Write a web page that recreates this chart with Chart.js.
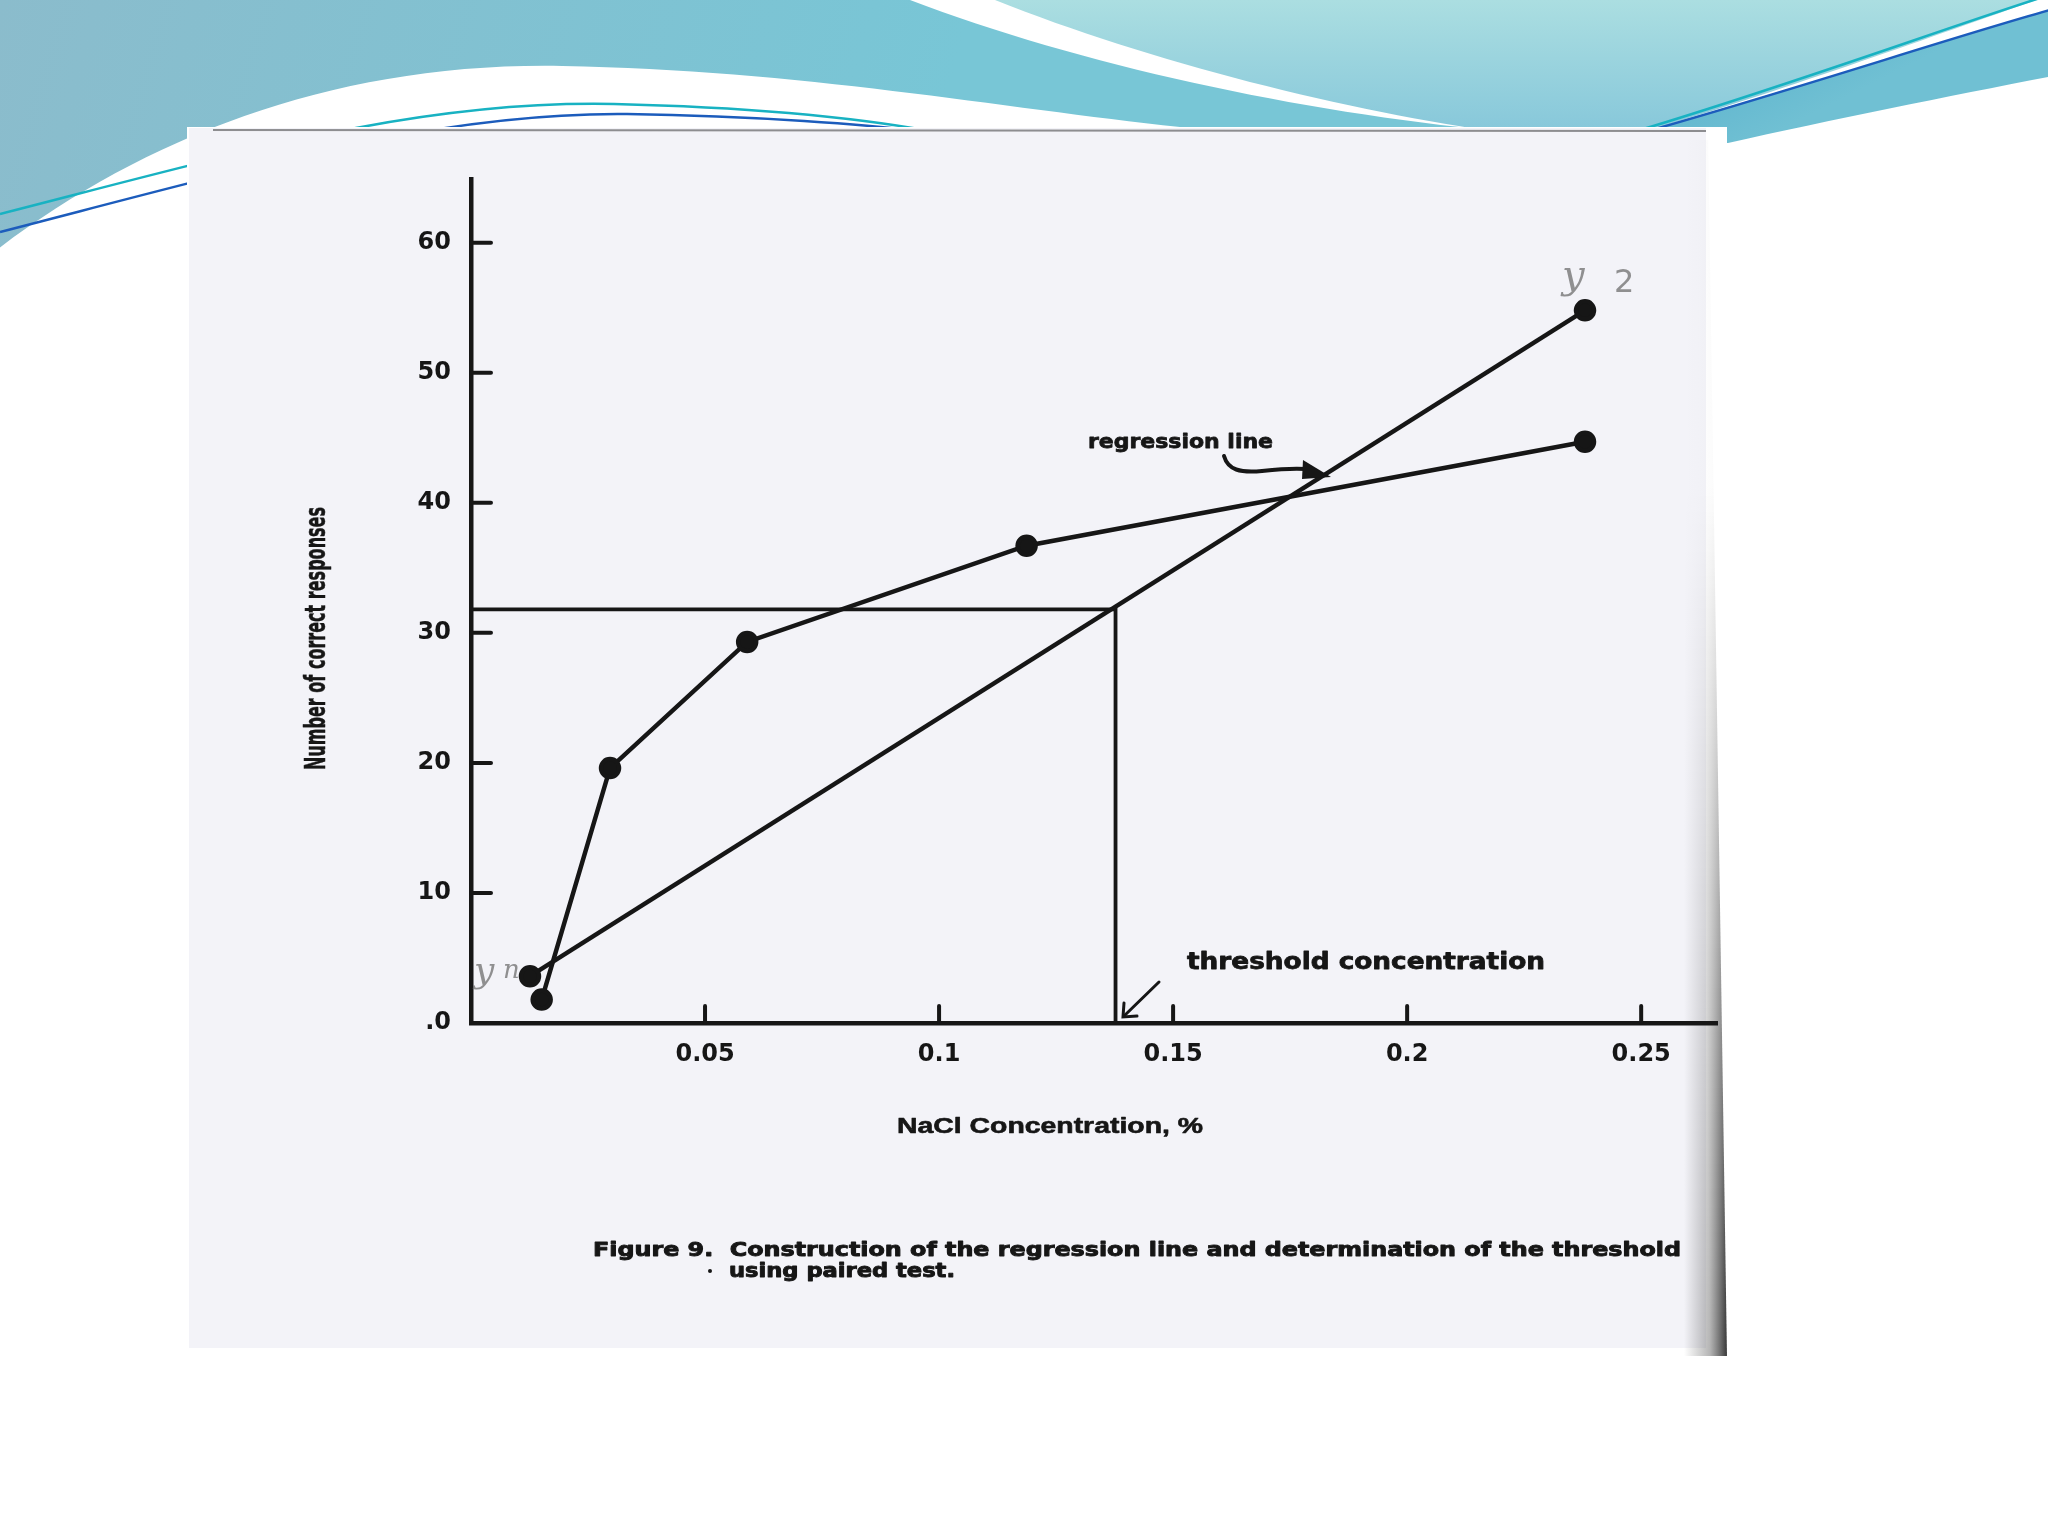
<!DOCTYPE html>
<html>
<head>
<meta charset="utf-8">
<script src="https://cdn.jsdelivr.net/npm/chart.js@4.4.1/dist/chart.umd.min.js"></script>
<style>
html,body{margin:0;padding:0;background:#ffffff;}
#wrap{position:absolute;left:0;top:0;width:2048px;height:1536px;}
canvas{display:block;}
</style>
</head>
<body>
<div id="wrap"><canvas id="c" width="2048" height="1536"></canvas></div>
<script>
// ---- data ----
const responseX = [0.0151, 0.0297, 0.0590, 0.1187, 0.2380];
const responseY = [1.8, 19.6, 29.3, 36.7, 44.7];
const regressionX = [0.0126, 0.2380];
const regressionY = [3.6, 54.8];
const thresholdX = 0.1377;
const thresholdY = 31.8;
const xTickValues = [0.05, 0.1, 0.15, 0.2, 0.25];
const xTickLabels = ['0.05', '0.1', '0.15', '0.2', '0.25'];
const yTickValues = [0, 10, 20, 30, 40, 50, 60];
const yTickLabels = ['.0', '10', '20', '30', '40', '50', '60'];
const xTitle = 'NaCl Concentration, %';
const yTitle = 'Number of correct responses';
const captionLine1 = 'Figure 9.  Construction of the regression line and determination of the threshold';
const captionLine2 = 'using paired test.';
const regressionLabel = 'regression line';
const thresholdLabel = 'threshold concentration';

const INK = '#161616';

function fitText(ctx, text, x, y, w, font, color, heavy) {
  ctx.save();
  ctx.font = font;
  ctx.fillStyle = color || INK;
  ctx.strokeStyle = color || INK;
  ctx.textAlign = 'left';
  ctx.textBaseline = 'alphabetic';
  const m = ctx.measureText(text).width;
  ctx.translate(x, y);
  ctx.scale(w / m, 1);
  ctx.fillText(text, 0, 0);
  if (heavy) {
    ctx.lineWidth = heavy;
    ctx.lineJoin = 'round';
    ctx.strokeText(text, 0, 0);
  }
  ctx.restore();
}

const backgroundPlugin = {
  id: 'slideBackground',
  beforeDraw(chart) {
    const ctx = chart.ctx;
    ctx.save();
    ctx.fillStyle = '#ffffff';
    ctx.fillRect(0, 0, 2048, 1536);

    // left blue region
    let g = ctx.createLinearGradient(0, 0, 900, 260);
    g.addColorStop(0, '#8bbccc');
    g.addColorStop(1, '#78c6d6');
    ctx.fillStyle = g;
    ctx.beginPath();
    ctx.moveTo(0, 0);
    ctx.lineTo(910, 0);
    ctx.bezierCurveTo(1080, 65, 1300, 112, 1497, 131);
    ctx.lineTo(1497, 200);
    ctx.lineTo(0, 300);
    ctx.closePath();
    ctx.fill();

    // white wave
    ctx.fillStyle = '#ffffff';
    ctx.beginPath();
    ctx.moveTo(-10, 255);
    ctx.bezierCurveTo(140, 140, 330, 62, 562, 66);
    ctx.bezierCurveTo(800, 70, 1000, 108, 1180, 127);
    ctx.lineTo(1500, 140);
    ctx.lineTo(1500, 400);
    ctx.lineTo(-10, 400);
    ctx.closePath();
    ctx.fill();

    // right light region
    g = ctx.createLinearGradient(0, 0, 0, 135);
    g.addColorStop(0, '#abdee1');
    g.addColorStop(1, '#86c7da');
    ctx.fillStyle = g;
    ctx.beginPath();
    ctx.moveTo(995, 0);
    ctx.bezierCurveTo(1150, 62, 1350, 112, 1505, 133);
    ctx.lineTo(1650, 130);
    ctx.bezierCurveTo(1800, 85, 1950, 30, 2048, -4);
    ctx.lineTo(2048, 0);
    ctx.closePath();
    ctx.fill();

    // darker band lower right
    g = ctx.createLinearGradient(1700, 20, 1760, 140);
    g.addColorStop(0, '#55aecb');
    g.addColorStop(1, '#70c0d3');
    ctx.fillStyle = g;
    ctx.beginPath();
    ctx.moveTo(1640, 132);
    ctx.bezierCurveTo(1800, 88, 1950, 38, 2048, 10);
    ctx.lineTo(2048, 77);
    ctx.bezierCurveTo(1950, 96, 1830, 120, 1728, 143);
    ctx.lineTo(1640, 143);
    ctx.closePath();
    ctx.fill();

    // thin lines (right)
    ctx.lineWidth = 2.5;
    ctx.strokeStyle = '#18b2c2';
    ctx.beginPath();
    ctx.moveTo(1640, 130);
    ctx.bezierCurveTo(1790, 85, 1940, 30, 2040, -2);
    ctx.stroke();
    ctx.strokeStyle = '#1c5cbc';
    ctx.beginPath();
    ctx.moveTo(1648, 131);
    ctx.bezierCurveTo(1800, 88, 1950, 38, 2050, 10);
    ctx.stroke();

    // thin lines (left)
    ctx.strokeStyle = '#18b2c2';
    ctx.beginPath();
    ctx.moveTo(0, 214);
    ctx.bezierCurveTo(250, 150, 420, 100, 614, 104);
    ctx.bezierCurveTo(780, 108, 880, 122, 930, 131);
    ctx.stroke();
    ctx.strokeStyle = '#1c5cbc';
    ctx.beginPath();
    ctx.moveTo(0, 232);
    ctx.bezierCurveTo(260, 165, 440, 112, 627, 114);
    ctx.bezierCurveTo(760, 116, 870, 125, 915, 131);
    ctx.stroke();

    // paper (white cover + scanned area)
    ctx.fillStyle = '#ffffff';
    ctx.fillRect(187, 127, 1540, 1229);
    ctx.fillStyle = '#f3f3f8';
    ctx.fillRect(189, 128, 1517, 1220);
    // scan top edge
    ctx.strokeStyle = '#8d8d90';
    ctx.lineWidth = 2;
    ctx.beginPath();
    ctx.moveTo(213, 130);
    ctx.lineTo(1706, 131);
    ctx.stroke();

    // right scan-edge shading (dark toward the bottom)
    for (let y = 140; y < 1356; y += 4) {
      const t = Math.max(0, (y - 480) / 876);
      const a = Math.min(0.88, Math.pow(t, 1.2) * 0.88 + 0.015);
      const right = 1708 + (y - 130) / 1226 * 19;
      const sg = ctx.createLinearGradient(1684, 0, right, 0);
      sg.addColorStop(0, 'rgba(70,70,70,0)');
      sg.addColorStop(0.6, 'rgba(70,70,70,' + (a * 0.45).toFixed(3) + ')');
      sg.addColorStop(1, 'rgba(30,30,30,' + a.toFixed(3) + ')');
      ctx.fillStyle = sg;
      ctx.fillRect(1684, y, right - 1684, 4);
    }
    ctx.restore();
  }
};

const annotationPlugin = {
  id: 'figureAnnotations',
  afterDraw(chart) {
    const ctx = chart.ctx;
    const xs = chart.scales.x, ys = chart.scales.y;
    ctx.save();
    // inward tick marks
    ctx.strokeStyle = INK;
    ctx.lineWidth = 4;
    ctx.lineCap = 'round';
    xTickValues.forEach(v => {
      const px = xs.getPixelForValue(v);
      ctx.beginPath();
      ctx.moveTo(px, ys.bottom);
      ctx.lineTo(px, ys.bottom - 17);
      ctx.stroke();
    });
    yTickValues.forEach(v => {
      if (v === 0) return;
      const py = ys.getPixelForValue(v);
      ctx.beginPath();
      ctx.moveTo(xs.left, py);
      ctx.lineTo(xs.left + 20, py);
      ctx.stroke();
    });

    // axis titles
    fitText(ctx, xTitle, 897, 1133, 306, 'bold 22px "Liberation Sans", Arial, sans-serif', INK, 0.6);
    ctx.save();
    ctx.translate(325, 770);
    ctx.rotate(-Math.PI / 2);
    fitText(ctx, yTitle, 0, 0, 263, 'bold 29px "Liberation Sans Narrow", "DejaVu Sans Condensed", sans-serif', INK, 0.5);
    ctx.restore();

    // annotations
    fitText(ctx, regressionLabel, 1088, 448, 185, 'bold 20px "DejaVu Sans", sans-serif', INK, 0.8);
    ctx.strokeStyle = INK;
    ctx.lineWidth = 4;
    ctx.lineCap = 'round';
    ctx.beginPath();
    ctx.moveTo(1224, 456);
    ctx.bezierCurveTo(1228, 470, 1240, 473, 1262, 471);
    ctx.bezierCurveTo(1280, 469, 1295, 468, 1306, 469);
    ctx.stroke();
    ctx.fillStyle = INK;
    ctx.beginPath();
    ctx.moveTo(1331, 477);
    ctx.lineTo(1303, 460);
    ctx.lineTo(1302, 479);
    ctx.closePath();
    ctx.fill();

    fitText(ctx, thresholdLabel, 1187, 969, 358, 'bold 23px "DejaVu Sans", sans-serif', INK, 0.8);
    ctx.lineWidth = 3;
    ctx.beginPath();
    ctx.moveTo(1159, 982);
    ctx.lineTo(1124, 1016);
    ctx.stroke();
    ctx.beginPath();
    ctx.moveTo(1124, 1003);
    ctx.lineTo(1123, 1017);
    ctx.lineTo(1137, 1016);
    ctx.stroke();

    // handwritten marks
    ctx.fillStyle = 'rgba(110,110,110,0.75)';
    ctx.font = 'italic 36px "DejaVu Serif", serif';
    ctx.fillText('y', 474, 982);
    ctx.font = 'italic 26px "DejaVu Serif", serif';
    ctx.fillText('n', 503, 978);
    ctx.font = 'italic 40px "DejaVu Serif", serif';
    ctx.fillText('y', 1562, 288);
    ctx.font = '32px "DejaVu Sans", sans-serif';
    ctx.fillText('2', 1614, 292);

    // caption
    fitText(ctx, captionLine1, 593, 1256, 1088, 'bold 19px "DejaVu Sans", sans-serif', INK, 0.9);
    ctx.fillStyle = INK;
    ctx.beginPath();
    ctx.arc(710, 1271, 2, 0, Math.PI * 2);
    ctx.fill();
    fitText(ctx, captionLine2, 729, 1277, 226, 'bold 19px "DejaVu Sans", sans-serif', INK, 0.9);
    ctx.restore();
  }
};

const toPoints = (xs, ys) => xs.map((x, i) => ({ x: x, y: ys[i] }));

Chart.defaults.font.family = '"DejaVu Sans", sans-serif';

new Chart(document.getElementById('c'), {
  type: 'scatter',
  data: {
    datasets: [
      {
        label: 'Correct responses',
        data: toPoints(responseX, responseY),
        showLine: true,
        borderColor: INK,
        backgroundColor: INK,
        borderWidth: 4.5,
        pointRadius: 9,
        pointBackgroundColor: INK,
        pointBorderColor: INK,
        tension: 0,
        clip: false
      },
      {
        label: 'Regression line',
        data: toPoints(regressionX, regressionY),
        showLine: true,
        borderColor: INK,
        backgroundColor: INK,
        borderWidth: 4.5,
        pointRadius: 9,
        pointBackgroundColor: INK,
        pointBorderColor: INK,
        clip: false
      },
      {
        label: 'Threshold',
        data: [{ x: 0, y: thresholdY }, { x: thresholdX, y: thresholdY }, { x: thresholdX, y: 0 }],
        showLine: true,
        borderColor: INK,
        borderWidth: 3.8,
        pointRadius: 0,
        clip: false
      }
    ]
  },
  options: {
    responsive: false,
    animation: false,
    devicePixelRatio: 1,
    events: [],
    layout: { padding: { left: 0, top: 179, right: 331, bottom: 0 } },
    plugins: { legend: { display: false }, tooltip: { enabled: false } },
    scales: {
      x: {
        type: 'linear',
        min: 0,
        max: 0.2662,
        afterBuildTicks: s => { s.ticks = xTickValues.map(v => ({ value: v })); },
        afterFit: s => { s.height = 513; },
        ticks: {
          callback: (v, i) => xTickLabels[i],
          font: { family: '"DejaVu Sans", sans-serif', weight: 'bold', size: 24 },
          color: INK,
          padding: 17,
          maxRotation: 0,
          autoSkip: false
        },
        grid: { display: false, drawTicks: false },
        border: { display: true, color: INK, width: 4.5 }
      },
      y: {
        type: 'linear',
        min: 0,
        max: 64.9,
        afterBuildTicks: s => { s.ticks = yTickValues.map(v => ({ value: v })); },
        afterFit: s => { s.width = 471; },
        ticks: {
          callback: (v, i) => yTickLabels[i],
          font: { family: '"DejaVu Sans", sans-serif', weight: 'bold', size: 24 },
          color: INK,
          padding: 20,
          autoSkip: false
        },
        grid: { display: false, drawTicks: false },
        border: { display: true, color: INK, width: 4.5 }
      }
    }
  },
  plugins: [backgroundPlugin, annotationPlugin]
});
</script>
</body>
</html>
